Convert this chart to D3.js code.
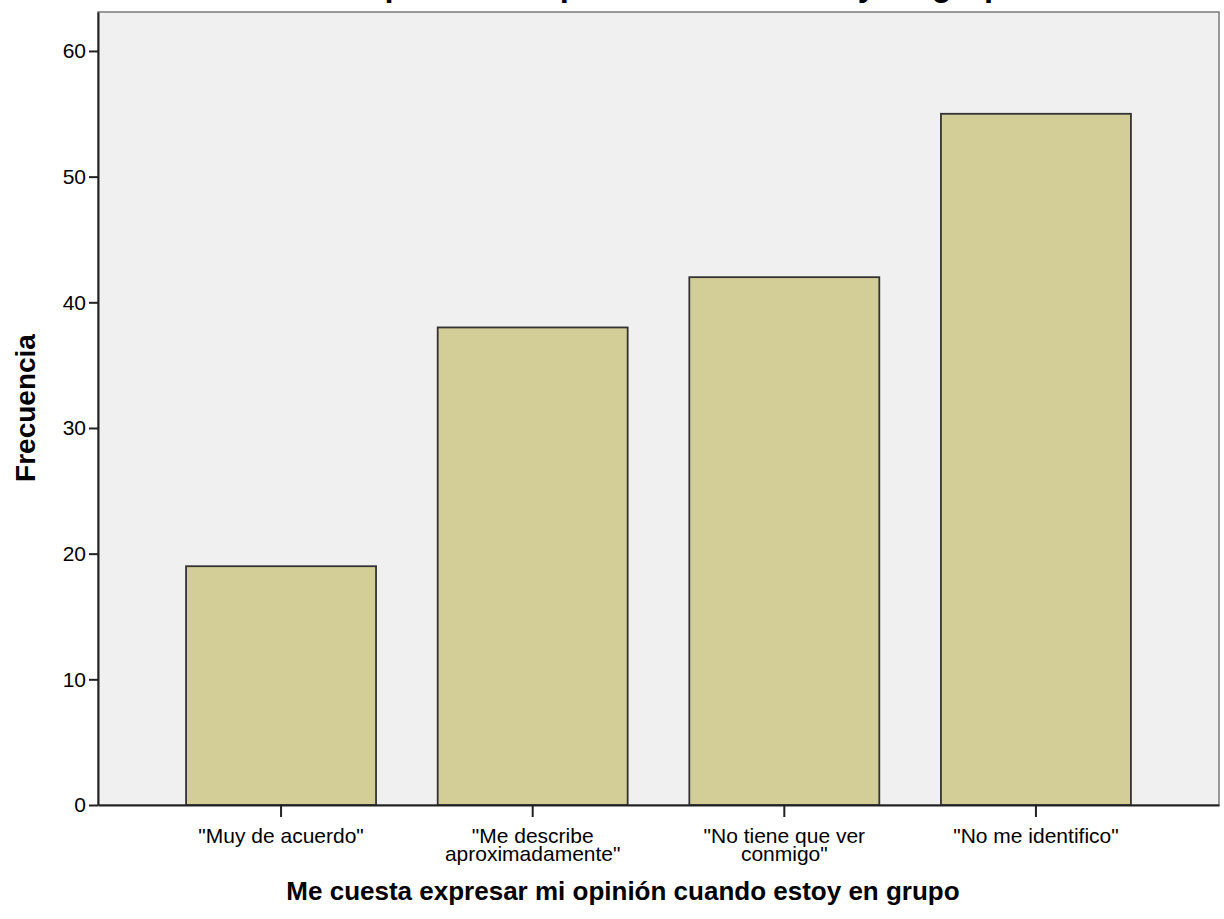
<!DOCTYPE html>
<html>
<head>
<meta charset="utf-8">
<script src="https://cdn.jsdelivr.net/npm/d3@7"></script>
<style>
  body { margin: 0; background: #fff; }
  text { font-family: Arial, "Liberation Sans", sans-serif; fill: #000; }
</style>
</head>
<body>
<svg width="1224" height="919"></svg>
<script>
var categories = ['"Muy de acuerdo"', '"Me describe aproximadamente"', '"No tiene que ver conmigo"', '"No me identifico"'];
var labelLines = [['"Muy de acuerdo"'], ['"Me describe', 'aproximadamente"'], ['"No tiene que ver', 'conmigo"'], ['"No me identifico"']];
var frecuencia = [19, 38, 42, 55];
var yTicks = [0, 10, 20, 30, 40, 50, 60];
var titulo = "Me cuesta expresar mi opinión  cuando estoy en grupo";

(function() {
  var svg = d3.select("svg"),
      plotLeft = 98, plotRight = 1219, plotTop = 12, plotBottom = 805;

  var x = d3.scaleBand()
      .domain(categories)
      .range([plotLeft, plotRight])
      .paddingInner(0.245)
      .paddingOuter(0.35);

  var y = d3.scaleLinear()
      .domain([0, 63.1])
      .range([plotBottom, plotTop]);

  // plot background
  svg.append("rect")
      .attr("x", plotLeft).attr("y", plotTop)
      .attr("width", plotRight - plotLeft).attr("height", plotBottom - plotTop)
      .attr("fill", "#f0f0f0")
      .attr("stroke", "#7a7a7a").attr("stroke-width", 1.5);

  // bars
  svg.append("g").selectAll("rect")
    .data(frecuencia)
    .enter().append("rect")
      .attr("x", function(d, i) { return x(categories[i]); })
      .attr("y", function(d) { return y(d); })
      .attr("width", x.bandwidth())
      .attr("height", function(d) { return y(0) - y(d); })
      .attr("fill", "#d3ce97")
      .attr("stroke", "#333")
      .attr("stroke-width", 1.8);

  // y axis
  var yAxis = svg.append("g")
      .attr("transform", "translate(" + plotLeft + ",0)")
      .call(d3.axisLeft(y).tickValues(yTicks).tickSize(9).tickSizeOuter(0).tickPadding(3));
  yAxis.select(".domain").attr("stroke", "#222").attr("stroke-width", 2);
  yAxis.selectAll(".tick line").attr("stroke", "#222").attr("stroke-width", 2);
  yAxis.selectAll(".tick text").style("font-size", "21px").attr("fill", "#000");

  // x axis
  var xAxis = svg.append("g")
      .attr("transform", "translate(0," + plotBottom + ")")
      .call(d3.axisBottom(x).tickSize(12).tickSizeOuter(0).tickFormat(""));
  xAxis.select(".domain").attr("stroke", "#222").attr("stroke-width", 2);
  xAxis.selectAll(".tick line").attr("stroke", "#222").attr("stroke-width", 2);

  xAxis.selectAll(".tick").each(function(d, i) {
    var t = d3.select(this).select("text")
        .attr("y", 0).attr("dy", null)
        .attr("fill", "#000")
        .style("font-size", "21px");
    labelLines[i].forEach(function(line, j) {
      t.append("tspan").attr("x", 0).attr("y", 38 + j * 18).text(line);
    });
  });

  // axis titles
  svg.append("text")
      .attr("x", 623).attr("y", 900)
      .attr("text-anchor", "middle")
      .style("font-size", "26px").style("font-weight", "bold")
      .text(titulo);

  svg.append("text")
      .attr("transform", "translate(35,408) rotate(-90)")
      .attr("text-anchor", "middle")
      .style("font-size", "28px").style("font-weight", "bold")
      .text("Frecuencia");

  // chart title, cut off at the top edge
  svg.append("text")
      .attr("x", 603).attr("y", -4)
      .attr("text-anchor", "middle")
      .style("font-size", "32.5px").style("font-weight", "bold")
      .text(titulo);
})();
</script>
</body>
</html>
